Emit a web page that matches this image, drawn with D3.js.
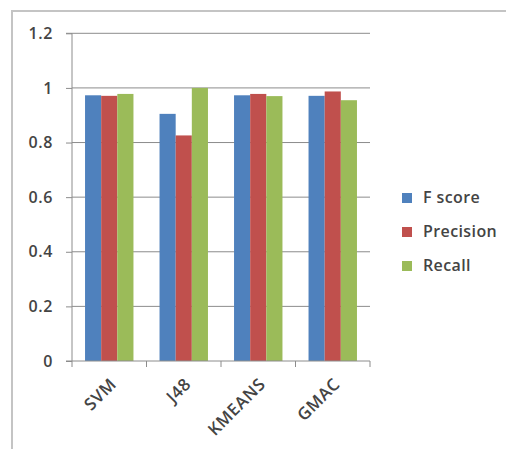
<!DOCTYPE html>
<html><head><meta charset="utf-8">
<script src="https://cdn.jsdelivr.net/npm/d3@7"></script>
<style>body{margin:0;background:#fff}svg{display:block}text{font-family:"Open Sans",sans-serif;fill:#444;font-weight:600}</style>
</head><body>
<script>
const categories = ["SVM", "J48", "KMEANS", "GMAC"];
const seriesNames = ["F score", "Precision", "Recall"];
const fScore = [0.973, 0.905, 0.973, 0.971];
const precision = [0.971, 0.826, 0.978, 0.987];
const recall = [0.978, 1.0, 0.970, 0.955];
const yTicks = [0, 0.2, 0.4, 0.6, 0.8, 1, 1.2];
const colors = ["#4F81BD", "#C0504D", "#9BBB59"];
const seriesValues = [fScore, precision, recall];

(function () {
const W = 506, H = 449;
const svg = d3.select("body").append("svg").attr("width", W).attr("height", H);

// outer chart border
svg.append("rect").attr("x", 12).attr("y", 11).attr("width", 520).attr("height", 460)
  .attr("fill", "none").attr("stroke", "#c4c4c4").attr("stroke-width", 2);

const pLeft = 72, pRight = 370, pTop = 33.3, pBottom = 361;
const x = d3.scaleBand().domain(categories).range([pLeft, pRight]).paddingInner(0.35).paddingOuter(0.175);
const xs = d3.scaleBand().domain(seriesNames).range([0, x.bandwidth()]);
const y = d3.scaleLinear().domain([0, 1.2]).range([pBottom, pTop]);

// gridlines
svg.append("g").selectAll("line").data(yTicks.filter(d => d > 0)).join("line")
  .attr("x1", pLeft).attr("x2", pRight).attr("y1", d => y(d)).attr("y2", d => y(d))
  .attr("stroke", "#8c8c8c").attr("stroke-width", 1);

// bars
seriesNames.forEach((s, si) => {
  svg.append("g").selectAll("rect").data(categories).join("rect")
    .attr("x", c => x(c) + xs(s))
    .attr("width", xs.bandwidth())
    .attr("y", (c, i) => y(seriesValues[si][i]))
    .attr("height", (c, i) => y(0) - y(seriesValues[si][i]))
    .attr("fill", colors[si]);
});

// y axis
const yAxis = d3.axisLeft(y).tickValues(yTicks).tickSize(6).tickPadding(13)
  .tickFormat(d => String(+d.toFixed(1)));
const gy = svg.append("g").attr("transform", `translate(${pLeft},0)`).call(yAxis);
gy.select(".domain").attr("stroke", "#8c8c8c").attr("d", `M-6,${pTop}H0V${pBottom}H-6`);
gy.selectAll(".tick line").attr("stroke", "#8c8c8c");
gy.selectAll("text").style("font-size", "16px").attr("fill", "#444")
  .style("font-family", "'Open Sans',sans-serif").style("font-weight", "600").style("letter-spacing", "0.6px");

// x axis
const gx = svg.append("g").attr("transform", `translate(0,${pBottom})`);
gx.append("line").attr("x1", pLeft).attr("x2", pRight).attr("y1", 0).attr("y2", 0).attr("stroke", "#8c8c8c");
const bounds = categories.map(c => x(c) - x.step() * x.paddingInner() / 2).concat([pRight]);
bounds[0] = pLeft;
gx.selectAll("line.tk").data(bounds).join("line").attr("class", "tk")
  .attr("x1", d => d).attr("x2", d => d).attr("y1", 0).attr("y2", 6).attr("stroke", "#8c8c8c");
gx.selectAll("text").data(categories).join("text")
  .attr("transform", c => `translate(${x(c) + x.bandwidth() / 2 + 4},${20}) rotate(-45)`)
  .attr("text-anchor", "end").attr("dy", "0.35em")
  .style("font-size", "17px").style("letter-spacing", "0.5px").text(c => c);

// legend
const lg = svg.append("g").attr("transform", "translate(402,197)");
seriesNames.forEach((s, i) => {
  const g = lg.append("g").attr("transform", `translate(0,${i * 34})`);
  g.append("rect").attr("x", 0).attr("y", -4).attr("width", 10).attr("height", 10).attr("fill", colors[i]);
  g.append("text").attr("x", 21).attr("y", 0).attr("dy", "0.35em")
    .style("font-size", "16px").style("letter-spacing", "0.4px").text(s);
});
})();
</script>
</body></html>
